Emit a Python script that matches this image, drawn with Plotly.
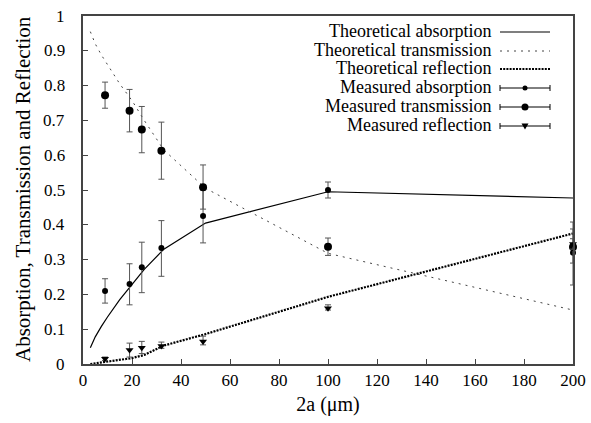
import plotly.graph_objects as go

# Theoretical curves
theo_x = [3, 5, 7.5, 10, 15, 20, 25, 33, 50, 100, 200]
theo_abs = [0.047, 0.078, 0.108, 0.135, 0.185, 0.228, 0.272, 0.330, 0.405, 0.495, 0.477]
theo_trans = [0.955, 0.920, 0.888, 0.860, 0.805, 0.757, 0.700, 0.615, 0.505, 0.318, 0.155]
theo_refl = [0.0, 0.002, 0.004, 0.005, 0.010, 0.017, 0.026, 0.053, 0.086, 0.193, 0.375]

# Measured data
meas_x = [9, 19, 24, 32, 49, 100, 200]
meas_abs = [0.21, 0.23, 0.278, 0.333, 0.425, 0.50, 0.32]
meas_abs_lo = [0.175, 0.17, 0.205, 0.252, 0.348, 0.477, 0.227]
meas_abs_hi = [0.245, 0.288, 0.350, 0.412, 0.50, 0.523, 0.408]
meas_trans = [0.772, 0.728, 0.674, 0.613, 0.508, 0.337, 0.336]
meas_trans_lo = [0.735, 0.667, 0.607, 0.531, 0.445, 0.312, 0.290]
meas_trans_hi = [0.810, 0.789, 0.740, 0.695, 0.572, 0.362, 0.388]
meas_refl = [0.015, 0.04, 0.047, 0.052, 0.065, 0.16, 0.345]
meas_refl_lo = [0.010, 0.020, 0.030, 0.045, 0.055, 0.155, 0.330]
meas_refl_hi = [0.020, 0.060, 0.065, 0.063, 0.080, 0.170, 0.360]

# Tick labels
y_tick_vals = [0, 0.1, 0.2, 0.3, 0.4, 0.5, 0.6, 0.7, 0.8, 0.9, 1]
y_tick_text = ["0", "0.1", "0.2", "0.3", "0.4", "0.5", "0.6", "0.7", "0.8", "0.9", "1"]

legend_labels = ["Theoretical absorption", "Theoretical transmission", "Theoretical reflection",
                 "Measured absorption", "Measured transmission", "Measured reflection"]
x_title = "2a (μm)"
y_title = "Absorption, Transmission and Reflection"

FONT = "Times New Roman"
ERRC = "#555555"

def err(vals, lo, hi):
    return dict(type="data", symmetric=False,
                array=[h - v for h, v in zip(hi, vals)],
                arrayminus=[v - l for v, l in zip(vals, lo)],
                color=ERRC, thickness=1, width=3)

fig = go.Figure()
fig.add_trace(go.Scatter(x=theo_x, y=theo_abs, mode="lines",
                         line=dict(color="black", width=1.2), name=legend_labels[0]))
fig.add_trace(go.Scatter(x=theo_x, y=theo_trans, mode="lines",
                         line=dict(color="#444444", width=1, dash="2px,5px"), name=legend_labels[1]))
fig.add_trace(go.Scatter(x=theo_x, y=theo_refl, mode="lines",
                         line=dict(color="black", width=2.2, dash="2px,1.2px"), name=legend_labels[2]))
fig.add_trace(go.Scatter(x=meas_x, y=meas_abs, mode="markers", cliponaxis=False,
                         marker=dict(color="black", size=6, symbol="circle"),
                         error_y=err(meas_abs, meas_abs_lo, meas_abs_hi), name=legend_labels[3]))
fig.add_trace(go.Scatter(x=meas_x, y=meas_trans, mode="markers", cliponaxis=False,
                         marker=dict(color="black", size=8, symbol="circle"),
                         error_y=err(meas_trans, meas_trans_lo, meas_trans_hi), name=legend_labels[4]))
fig.add_trace(go.Scatter(x=meas_x, y=meas_refl, mode="markers", cliponaxis=False,
                         marker=dict(color="black", size=7, symbol="triangle-down"),
                         error_y=err(meas_refl, meas_refl_lo, meas_refl_hi), name=legend_labels[5]))

# Manual legend (text right-aligned, sample on the right)
L, R, T, B = 83, 573, 16, 364
W, H = R - L, B - T
def px(xp): return (xp - L) / W
def py(yp): return (B - yp) / H

rows = [32, 51, 69, 88, 107, 126]
shapes = []
annotations = []
x0, x1, xm = px(500), px(550), px(525)
for i, (lab, yr) in enumerate(zip(legend_labels, rows)):
    annotations.append(dict(x=px(492), y=py(yr - 1), xref="paper", yref="paper", text=lab,
                            showarrow=False, xanchor="right", yanchor="middle", borderpad=0,
                            font=dict(family=FONT, size=18, color="black")))
    yy = py(yr)
    if i == 0:
        shapes.append(dict(type="line", xref="paper", yref="paper", x0=x0, x1=x1, y0=yy, y1=yy,
                           line=dict(color="black", width=1.2)))
    elif i == 1:
        shapes.append(dict(type="line", xref="paper", yref="paper", x0=x0, x1=x1, y0=yy, y1=yy,
                           line=dict(color="#444444", width=1, dash="2px,5px")))
    elif i == 2:
        shapes.append(dict(type="line", xref="paper", yref="paper", x0=x0, x1=x1, y0=yy, y1=yy,
                           line=dict(color="black", width=2, dash="2px,1.2px")))
    else:
        shapes.append(dict(type="line", xref="paper", yref="paper", x0=x0, x1=x1, y0=yy, y1=yy,
                           line=dict(color="black", width=1)))
        for xe in (x0, x1):
            shapes.append(dict(type="line", xref="paper", yref="paper", x0=xe, x1=xe,
                               y0=yy - 3 / H, y1=yy + 3 / H, line=dict(color="black", width=1)))
        r = {3: 2.5, 4: 3.5}.get(i)
        if r:
            shapes.append(dict(type="circle", xref="paper", yref="paper",
                               x0=xm - r / W, x1=xm + r / W, y0=yy - r / H, y1=yy + r / H,
                               fillcolor="black", line=dict(color="black", width=0)))
        else:
            cx, cy = 525, yr
            path = f"M {px(cx-3.5)} {py(cy-2.5)} L {px(cx+3.5)} {py(cy-2.5)} L {px(cx)} {py(cy+3.5)} Z"
            shapes.append(dict(type="path", xref="paper", yref="paper", path=path,
                               fillcolor="black", line=dict(color="black", width=0)))

# Y tick labels placed on the y scale, set away from the frame as in the reference
for v, t in zip(y_tick_vals, y_tick_text):
    annotations.append(dict(x=px(66), y=v, xref="paper", yref="y", text=t,
                            showarrow=False, xanchor="right", yanchor="middle", borderpad=0,
                            font=dict(family=FONT, size=17, color="black")))

# Y-axis title
annotations.append(dict(x=px(23), y=py(189), xref="paper", yref="paper", text=y_title,
                        showarrow=False, textangle=-90, xanchor="center", yanchor="middle",
                        font=dict(family=FONT, size=21, color="black")))

fig.update_layout(
    width=591, height=423,
    margin=dict(l=L, r=591 - R, t=T, b=423 - B),
    paper_bgcolor="white", plot_bgcolor="white",
    showlegend=False,
    font=dict(family=FONT, size=17, color="black"),
    shapes=shapes, annotations=annotations,
    xaxis=dict(range=[0, 200], dtick=20, tick0=0, showgrid=False, zeroline=False,
               showline=True, linecolor="#444444", linewidth=1.5, mirror=True,
               ticks="inside", ticklen=5, tickcolor="#444444", automargin=False,
               title=dict(text=x_title, font=dict(family=FONT, size=20), standoff=8),
               tickfont=dict(family=FONT, size=17)),
    yaxis=dict(range=[0, 1], tickvals=y_tick_vals, showgrid=False, zeroline=False,
               showline=True, linecolor="#444444", linewidth=1.5, mirror=True,
               ticks="inside", ticklen=5, tickcolor="#444444", automargin=False,
               showticklabels=False),
)

fig.write_html("out.html")
